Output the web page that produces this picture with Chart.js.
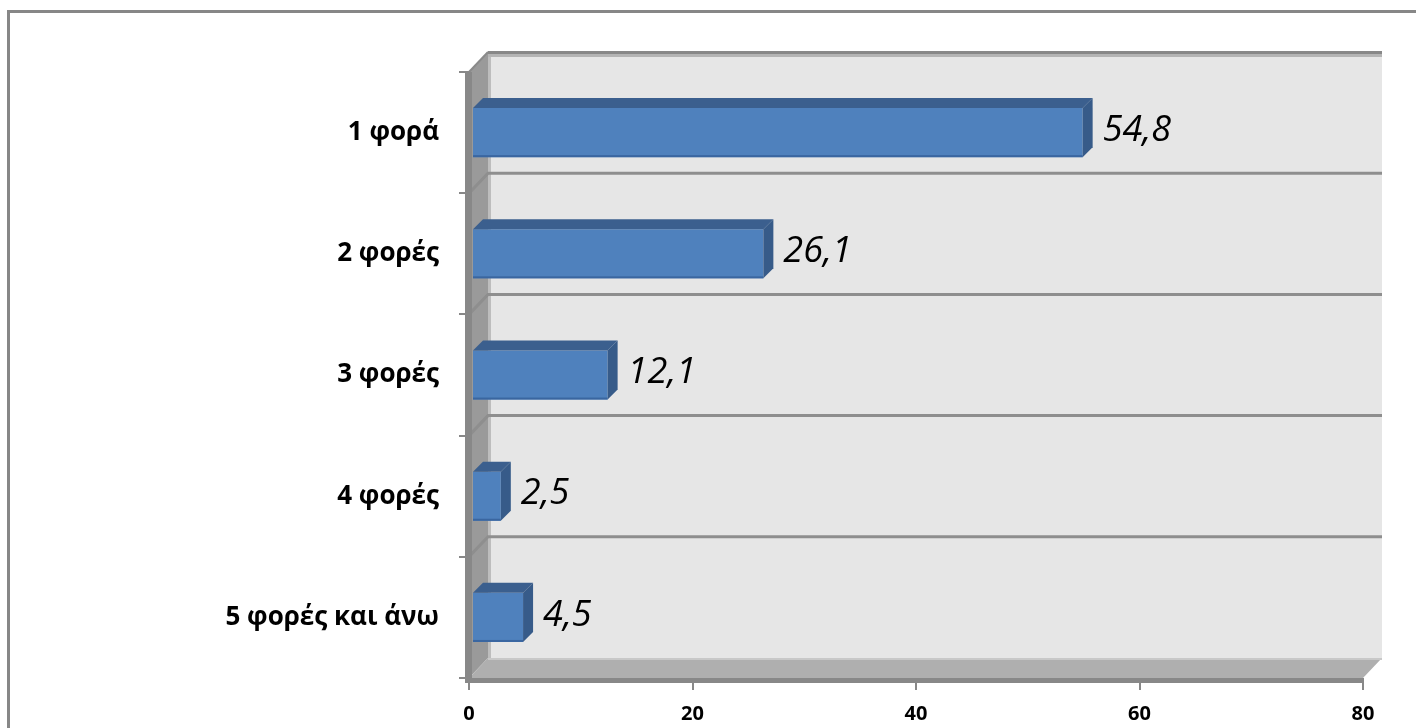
<!DOCTYPE html>
<html>
<head>
<meta charset="utf-8">
<script src="https://cdn.jsdelivr.net/npm/chart.js@4.4.1/dist/chart.umd.min.js"></script>
<style>
html, body { margin: 0; padding: 0; background: #fff; }
canvas { display: block; }
</style>
</head>
<body>
<canvas id="myChart" width="1416" height="728"></canvas>
<script>
var categories = ['1 φορά', '2 φορές', '3 φορές', '4 φορές', '5 φορές και άνω'];
var values = [54.8, 26.1, 12.1, 2.5, 4.5];
var xTicks = [0, 20, 40, 60, 80];

// depth of the 3d box and of the bars
var depthX = 19, depthY = -20;
var barDepth = 10;

// walls, floor, gridlines and outer frame, drawn under everything
var wallPlugin = {
  id: 'walls',
  beforeDraw: function(c) {
    var ctx = c.ctx, a = c.chartArea;
    var L = a.left, R = a.right, T = a.top, B = a.bottom;
    var ys = c.scales.y;
    ctx.save();

    ctx.strokeStyle = '#878787';
    ctx.lineWidth = 3;
    ctx.strokeRect(8.5, 11.5, 1500, 800);

    // back wall
    ctx.fillStyle = '#e6e6e6';
    ctx.fillRect(L + depthX, T + depthY, R - L, B - T);
    ctx.fillStyle = '#bdbdbd';
    ctx.fillRect(L + depthX, T + depthY, 3, B - T);
    ctx.fillStyle = '#b4b4b4';
    ctx.fillRect(L + depthX, T + depthY + 2, R - L, 3);
    ctx.fillStyle = '#888';
    ctx.fillRect(L + depthX, T + depthY - 1, R - L, 3);

    // left wall
    ctx.fillStyle = '#9a9a9a';
    ctx.beginPath();
    ctx.moveTo(L, T);
    ctx.lineTo(L + depthX, T + depthY);
    ctx.lineTo(L + depthX, B + depthY);
    ctx.lineTo(L, B);
    ctx.closePath();
    ctx.fill();
    ctx.strokeStyle = '#8a8a8a';
    ctx.lineWidth = 2;
    ctx.beginPath();
    ctx.moveTo(L, T);
    ctx.lineTo(L + depthX, T + depthY);
    ctx.stroke();

    // floor
    ctx.fillStyle = '#afafaf';
    ctx.beginPath();
    ctx.moveTo(L, B);
    ctx.lineTo(L + depthX, B + depthY);
    ctx.lineTo(R + depthX, B + depthY);
    ctx.lineTo(R, B);
    ctx.closePath();
    ctx.fill();
    ctx.fillStyle = '#c8c8c8';
    ctx.fillRect(L + depthX, B + depthY, R - L, 2);

    // category gridlines on left wall and back wall
    var band = ys.getPixelForTick(1) - ys.getPixelForTick(0);
    ctx.strokeStyle = '#8e8e8e';
    ctx.lineWidth = 3;
    for (var k = 1; k < categories.length; k++) {
      var y = ys.getPixelForTick(k) - band / 2;
      ctx.beginPath();
      ctx.moveTo(L, y);
      ctx.lineTo(L + depthX, y + depthY);
      ctx.lineTo(R + depthX, y + depthY);
      ctx.stroke();
    }

    // axis lines
    ctx.fillStyle = '#888';
    ctx.fillRect(L - 4, T, 7, B - T);
    ctx.fillRect(L - 4, B, R - L + 4, 5);
    ctx.restore();
  }
};

// 3d faces of the bars and the value labels
var barPlugin = {
  id: 'bars3d',
  afterDatasetsDraw: function(c) {
    var ctx = c.ctx;
    var meta = c.getDatasetMeta(0);
    ctx.save();
    meta.data.forEach(function(bar, i) {
      var x0 = bar.base, x1 = bar.x, h = bar.height;
      var yT = bar.y - h / 2, yB = bar.y + h / 2, d = barDepth;
      ctx.fillStyle = '#3b5f8e';
      ctx.beginPath();
      ctx.moveTo(x0, yT);
      ctx.lineTo(x0 + d, yT - d);
      ctx.lineTo(x1 + d, yT - d);
      ctx.lineTo(x1, yT);
      ctx.closePath();
      ctx.fill();
      ctx.fillStyle = '#375b89';
      ctx.beginPath();
      ctx.moveTo(x1, yT);
      ctx.lineTo(x1 + d, yT - d);
      ctx.lineTo(x1 + d, yB - d);
      ctx.lineTo(x1, yB);
      ctx.closePath();
      ctx.fill();
      ctx.fillStyle = '#3a66a0';
      ctx.fillRect(x0, yB - 2, x1 - x0, 2);

      ctx.fillStyle = '#000';
      ctx.font = 'italic 36px "Open Sans"';
      ctx.textAlign = 'left';
      ctx.textBaseline = 'middle';
      ctx.fillText(values[i].toFixed(1).replace('.', ','), x1 + 20, bar.y - 2);
    });
    ctx.restore();
  }
};

var ctx = document.getElementById('myChart').getContext('2d');
var myChart = new Chart(ctx, {
  type: 'bar',
  data: {
    labels: categories,
    datasets: [{
      data: values,
      backgroundColor: '#4f81bd',
      borderWidth: 0,
      xAxisID: 'xb',
      barPercentage: 0.405,
      categoryPercentage: 1
    }]
  },
  options: {
    indexAxis: 'y',
    responsive: false,
    animation: false,
    devicePixelRatio: 1,
    layout: { padding: { top: 72, right: 53, bottom: 0, left: 0 } },
    plugins: { legend: { display: false }, tooltip: { enabled: false } },
    scales: {
      x: {
        type: 'linear',
        position: 'bottom',
        min: 0,
        max: 80,
        afterBuildTicks: function(s) {
          s.ticks = xTicks.map(function(v) { return { value: v }; });
        },
        afterFit: function(s) { s.height = 50; },
        ticks: {
          color: '#000',
          padding: 12,
          font: { family: 'Open Sans', size: 20, weight: 'bold' }
        },
        grid: { drawOnChartArea: false, tickLength: 12, color: '#888', lineWidth: 2 },
        border: { display: false }
      },
      // bars sit a little inside the box, so they get their own hidden scale
      xb: { type: 'linear', display: false, min: -0.36, max: 80 },
      y: {
        type: 'category',
        afterFit: function(s) { s.width = 469; },
        ticks: {
          color: '#000',
          padding: 20,
          font: { family: 'Open Sans', size: 26, weight: 'bold' }
        },
        grid: { drawOnChartArea: false, offset: true, tickLength: 10, color: '#888', lineWidth: 2 },
        border: { display: false }
      }
    }
  },
  plugins: [wallPlugin, barPlugin]
});
</script>
</body>
</html>
